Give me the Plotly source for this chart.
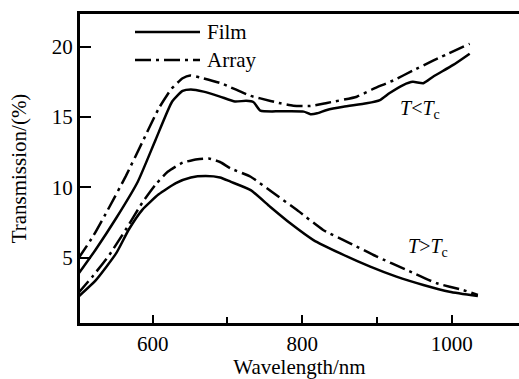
import plotly.graph_objects as go

# ---- data ----
film_low_T_x = [500, 524, 551, 580, 604, 626, 640, 651, 668, 690, 710, 725, 735, 744, 770, 802, 811,
                820, 833, 855, 886, 904, 917, 935, 948, 962, 975, 1002, 1024]
film_low_T_y = [3.8, 5.6, 7.8, 10.4, 13.4, 16.1, 16.85, 16.95, 16.8, 16.45, 16.1, 16.15, 16.05, 15.45,
                15.4, 15.38, 15.2, 15.26, 15.5, 15.73, 15.97, 16.2, 16.7, 17.27, 17.5, 17.4, 17.86, 18.7, 19.5]

array_low_T_x = [500, 520, 542, 564, 586, 608, 625, 640, 650, 664, 691, 731, 744, 771, 788, 811, 833, 873,
                 895, 922, 948, 975, 1024]
array_low_T_y = [4.9, 6.5, 8.6, 10.8, 13.2, 15.6, 17.0, 17.75, 17.95, 17.8, 17.4, 16.5, 16.32, 15.97, 15.8,
                 15.78, 16.0, 16.44, 17.0, 17.6, 18.3, 19.0, 20.2]

film_high_T_x = [500, 524, 551, 568, 586, 608, 631, 651, 671, 690, 704, 731, 757, 784, 815, 851, 891,
                 926, 962, 997, 1035]
film_high_T_y = [2.2, 3.4, 5.3, 7.0, 8.4, 9.5, 10.3, 10.7, 10.8, 10.7, 10.4, 9.8, 8.62, 7.44, 6.25,
                 5.3, 4.36, 3.65, 3.06, 2.58, 2.27]

array_high_T_x = [500, 520, 542, 564, 586, 604, 620, 640, 660, 675, 690, 704, 731, 762, 793, 828, 864,
                  900, 940, 980, 1015, 1035]
array_high_T_y = [2.45, 3.7, 5.2, 7.0, 8.9, 10.2, 11.1, 11.75, 12.0, 12.05, 11.8, 11.35, 10.75, 9.57,
                  8.39, 6.97, 6.02, 5.07, 4.12, 3.18, 2.7, 2.35]

x_major_ticks = [600, 800, 1000]
x_minor_ticks = [700, 900]
y_ticks = [5, 10, 15, 20]

FONT = "Liberation Serif"
DASHDOT = "16px,5px,3px,5px"

fig = go.Figure()
for xs, ys, dash, name in [
    (film_low_T_x, film_low_T_y, "solid", "Film"),
    (array_low_T_x, array_low_T_y, DASHDOT, "Array"),
    (film_high_T_x, film_high_T_y, "solid", "Film"),
    (array_high_T_x, array_high_T_y, DASHDOT, "Array"),
]:
    fig.add_trace(go.Scatter(x=xs, y=ys, mode="lines", name=name, showlegend=False,
                             line=dict(color="black", width=2.5, dash=dash,
                                       shape="spline", smoothing=0.5)))

# manual legend (long line samples as in the reference)
L, R, T, B = 80, 0, 14, 56
W, H = 519, 379
pw, ph = W - L - R, H - T - B
def px2paper(px, py):
    return (px - L) / pw, (H - B - py) / ph

for py, dash, label in [(32, "solid", "Film"), (60, DASHDOT, "Array")]:
    x0, y0 = px2paper(135, py)
    x1, _ = px2paper(200, py)
    xt, _ = px2paper(205, py)
    fig.add_shape(type="line", xref="paper", yref="paper", x0=x0, x1=x1, y0=y0, y1=y0,
                  line=dict(color="black", width=2.5, dash=dash))
    fig.add_annotation(xref="paper", yref="paper", x=xt, y=y0, text=label, showarrow=False,
                       xanchor="left", yanchor="middle", font=dict(size=21, color="black", family=FONT))

fig.add_annotation(x=957, y=15.5, text="<i>T</i>&lt;<i>T</i><sub>c</sub>", showarrow=False,
                   font=dict(size=20, color="black", family=FONT))
fig.add_annotation(x=968, y=5.75, text="<i>T</i>&gt;<i>T</i><sub>c</sub>", showarrow=False,
                   font=dict(size=20, color="black", family=FONT))

fig.update_layout(
    width=W, height=H,
    margin=dict(l=L, r=R, t=T, b=B, autoexpand=False),
    paper_bgcolor="white", plot_bgcolor="white",
    font=dict(family=FONT, size=21, color="black"),
    showlegend=False,
)
fig.update_xaxes(
    range=[502.7, 1090], showgrid=False, zeroline=False,
    showline=True, linecolor="black", linewidth=3, mirror=True,
    tickmode="array", tickvals=x_major_ticks, ticktext=[str(v) for v in x_major_ticks],
    ticks="inside", ticklen=8, tickwidth=2, tickcolor="black",
    minor=dict(tickmode="array", tickvals=x_minor_ticks, ticks="inside", ticklen=6,
               tickwidth=2, tickcolor="black"),
    tickfont=dict(size=21, family=FONT, color="black"),
    title=dict(text="Wavelength/nm", font=dict(size=21, family=FONT, color="black"), standoff=8),
)
fig.update_yaxes(
    range=[0.355, 22.32], showgrid=False, zeroline=False,
    showline=True, linecolor="black", linewidth=3, mirror=False,
    tickmode="array", tickvals=y_ticks, ticktext=[str(v) for v in y_ticks],
    ticks="inside", ticklen=11, tickwidth=2, tickcolor="black",
    tickfont=dict(size=21, family=FONT, color="black"),
    title=dict(text="Transmission/(%)", font=dict(size=21, family=FONT, color="black"), standoff=20),
)

fig.write_html("out.html")
